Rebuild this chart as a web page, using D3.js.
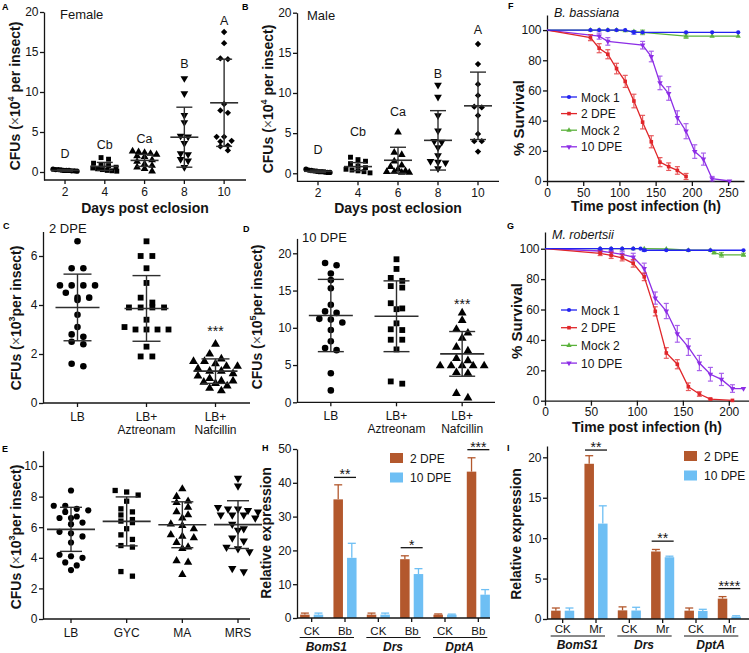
<!DOCTYPE html>
<html>
<head>
<meta charset="utf-8">
<script src="https://cdn.jsdelivr.net/npm/d3@7"></script>
<style>
body{margin:0;background:#fff}
svg{font-family:"Liberation Sans",Arial,Helvetica,sans-serif}
</style>
</head>
<body>
<svg id="fig" width="749" height="653"></svg>
<script>
// ---- A / B : CFUs by days post eclosion (x10^4 per insect)
const days = [2, 4, 6, 8, 10];
const femaleD2 = [0.35, 0.3, 0.3, 0.25, 0.2, 0.2, 0.2, 0.15, 0.15, 0.1];
const femaleD4 = [1.8, 1.6, 1.1, 0.9, 0.8, 0.6, 0.5, 0.4, 0.3, 0.2, 0.15, 0.1];
const femaleD6 = [2.6, 2.5, 2.4, 2.3, 2.2, 2.0, 1.9, 1.5, 1.3, 1.0, 0.8, 0.6, 0.4, 0.1];
const femaleD8 = [11.7, 9.8, 7.1, 6.2, 4.5, 4.4, 3.6, 2.3, 2.2, 1.6, 1.4, 0.6];
const femaleD10 = [17.5, 16.1, 14.2, 14.1, 8.5, 7.7, 7.4, 4.4, 4.4, 3.9, 3.8, 3.3, 3.2, 2.7];
const femaleMean = [0.2, 0.7, 1.45, 4.35, 8.65];
const femaleSd = [0.1, 0.5, 0.75, 3.75, 5.45];
const femaleLetters = ['D', 'Cb', 'Ca', 'B', 'A'];
const femaleLetterY = [1.75, 2.9, 3.6, 13, 18.4];

const maleD2 = [0.5, 0.4, 0.35, 0.3, 0.25, 0.2, 0.2, 0.15, 0.1, 0.1];
const maleD4 = [2.0, 1.7, 1.5, 1.2, 0.9, 0.7, 0.5, 0.4, 0.3, 0.2, 0.05];
const maleD6 = [5.1, 2.6, 2.3, 1.5, 1.0, 0.8, 0.5, 0.3, 0.2, 0.2, 0.1, 0.1];
const maleD8 = [11.0, 9.5, 7.2, 5.3, 4.0, 3.9, 3.2, 2.2, 1.5, 1.4, 1.3, 0.6];
const maleD10 = [16.1, 13.6, 11.1, 9.7, 8.3, 8.2, 7.2, 4.9, 4.0, 4.0, 2.7];
const maleMean = [0.25, 0.83, 1.62, 4.1, 8.4];
const maleSd = [0.15, 0.5, 1.62, 3.7, 4.2];
const maleLetters = ['D', 'Cb', 'Ca', 'B', 'A'];
const maleLetterY = [2.4, 4.6, 7.1, 11.9, 17.3];

// ---- C / D : antibiotics
const abCats = ['LB', 'LB+\nAztreonam', 'LB+\nNafcillin'];
const cLB = [6.6, 5.5, 5.5, 4.8, 4.8, 4.8, 4.8, 4.5, 4.3, 4.3, 4.2, 3.6, 3.1, 2.8, 2.7, 2.5, 2.4, 1.6, 1.5];
const cAzt = [6.6, 6.0, 6.0, 5.5, 4.9, 4.3, 4.1, 3.9, 3.9, 3.9, 3.9, 3.4, 3.1, 3.0, 3.0, 3.0, 3.0, 2.3, 1.9, 1.9];
const cNaf = [2.4, 2.0, 1.8, 1.7, 1.7, 1.6, 1.5, 1.5, 1.4, 1.3, 1.3, 1.2, 1.1, 1.0, 0.9, 0.9, 0.85, 0.8, 0.7, 0.6, 0.5];
const cMean = [3.9, 3.86, 1.3];
const cSd = [1.36, 1.34, 0.5];
const dLB = [18.7, 18.4, 17.3, 16.4, 15.3, 13.1, 12.2, 12.0, 11.2, 11.1, 10.7, 9.7, 8.2, 7.3, 7.0, 3.9, 1.6];
const dAzt = [19.2, 17.9, 16.7, 16.3, 15.6, 15.4, 13.3, 12.6, 12.5, 10.6, 9.8, 9.7, 8.4, 8.4, 7.1, 2.8, 2.5];
const dNaf = [12.0, 11.0, 9.8, 9.3, 8.6, 7.4, 6.9, 5.9, 5.6, 4.9, 4.9, 4.9, 4.9, 4.9, 4.0, 3.9, 1.2, 0.6];
const dMean = [11.65, 11.55, 6.5];
const dSd = [4.85, 4.75, 3.0];

// ---- E : media
const mediaCats = ['LB', 'GYC', 'MA', 'MRS'];
const eLB = [8.4, 7.4, 7.4, 7.2, 7.1, 7.0, 6.7, 6.6, 6.6, 6.3, 6.2, 5.7, 5.6, 5.4, 5.0, 4.2, 4.1, 4.0, 3.7, 3.5, 3.2];
const eGYC = [8.4, 8.3, 8.1, 7.7, 7.2, 7.0, 6.8, 6.5, 6.4, 6.3, 5.9, 5.5, 5.2, 4.8, 4.7, 3.1, 2.8];
const eMA = [8.5, 8.0, 7.7, 7.6, 7.3, 7.0, 6.8, 6.6, 6.2, 6.1, 5.9, 5.5, 5.4, 5.3, 5.0, 4.7, 4.6, 3.8, 3.7, 2.9];
const eMRS = [9.2, 8.7, 7.3, 7.2, 7.2, 7.1, 7.0, 6.8, 6.8, 6.8, 6.6, 6.2, 5.9, 5.8, 5.3, 5.1, 4.7, 4.6, 4.4, 3.3, 3.1];
const eMean = [5.86, 6.38, 6.16, 6.17];
const eSd = [1.44, 1.6, 1.5, 1.56];

// ---- F / G : survival (%), time in h
const survLabels = ['Mock 1', '2 DPE', 'Mock 2', '10 DPE'];
const fMock1T = [0, 60, 72, 84, 96, 108, 120, 132, 192, 228, 264];
const fMock1S = [100, 100, 100, 100, 100, 100, 98.5, 98.5, 98.5, 98.5, 98.5];
const fMock1E = [0, 0, 0, 0, 0, 0, 1.2, 0, 0, 0, 0];
const fMock2T = [0, 60, 72, 84, 96, 108, 120, 132, 192, 228, 264];
const fMock2S = [100, 100, 100, 100, 100, 99.5, 99, 98.5, 96, 96, 96];
const fMock2E = [0, 0, 0, 0, 0, 0, 0, 1.5, 1.5, 0, 0];
const f2dpeT = [0, 60, 72, 84, 96, 108, 120, 132, 144, 156, 168, 180, 192];
const f2dpeS = [100, 95, 88, 84, 74.5, 66, 53, 39, 26, 12.5, 9.5, 7, 3];
const f2dpeE = [0, 2, 3, 3, 3.5, 4, 4.5, 4.5, 4, 3, 2.5, 2.5, 2];
const f10dpeT = [0, 72, 84, 132, 144, 156, 168, 180, 192, 204, 216, 228, 252];
const f10dpeS = [100, 96, 92.5, 90, 82.5, 65, 58, 42, 33, 19.5, 14.5, 1.5, 0];
const f10dpeE = [0, 2, 2.5, 2.5, 3.5, 4.5, 4.5, 4.5, 5, 4.5, 4, 1.5, 0];

const gMock1T = [0, 60, 72, 84, 96, 104, 108, 132, 156, 180, 216];
const gMock1S = [100, 100, 100, 100, 100, 100, 99, 99, 99, 99, 99];
const gMock1E = [0, 0, 0, 0, 0, 0, 0.8, 0, 0, 0, 0];
const gMock2T = [0, 60, 72, 84, 96, 108, 132, 156, 180, 184, 192, 216];
const gMock2S = [100, 100, 100, 100, 100, 100, 99.8, 99, 99, 97.5, 96, 96];
const gMock2E = [0, 0, 0, 0, 0, 0, 0, 0, 0, 1, 1.5, 1];
const g2dpeT = [0, 60, 72, 84, 96, 108, 120, 132, 144, 156, 168, 180, 204];
const g2dpeS = [100, 97, 95.6, 94, 90.4, 81.5, 58.8, 31.4, 24, 9.2, 4.4, 1.1, 0.2];
const g2dpeE = [0, 1.5, 2, 2, 2.5, 2.5, 3, 3.5, 3, 2.5, 1.5, 0.5, 0];
const g10dpeT = [0, 60, 72, 84, 96, 108, 120, 132, 144, 156, 168, 180, 192, 204, 216];
const g10dpeS = [100, 98.5, 97.4, 96.3, 94.5, 87, 67.5, 59, 44, 35.3, 24.8, 17.4, 14, 8, 8];
const g10dpeE = [0, 1, 1.5, 2, 2.5, 3.5, 4, 5, 5.5, 5.5, 5, 4.5, 4, 2.5, 0];

// ---- H / I : relative expression
const genes = ['BomS1', 'Drs', 'DptA'];
const hCats = ['CK', 'Bb', 'CK', 'Bb', 'CK', 'Bb'];
const h2dpe = [1.0, 35.1, 1.0, 17.4, 1.0, 43.3];
const h2dpeErr = [0.45, 4.3, 0.45, 1.0, 0.2, 4.1];
const h10dpe = [1.0, 17.8, 1.0, 13.0, 1.0, 6.9];
const h10dpeErr = [0.45, 4.3, 0.45, 1.6, 0.15, 1.5];
const hSig = ['**', '*', '***'];
const hSigY = [41.6, 20.8, 49.8];
const iCats = ['CK', 'Mr', 'CK', 'Mr', 'CK', 'Mr'];
const i2dpe = [1.03, 19.2, 1.07, 8.35, 1.03, 2.52];
const i2dpeErr = [0.33, 1.0, 0.43, 0.25, 0.33, 0.25];
const i10dpe = [1.03, 11.8, 1.05, 7.64, 1.0, 0.3];
const i10dpeErr = [0.33, 2.2, 0.4, 0.13, 0.2, 0.1];
const iSig = ['**', '**', '****'];
const iSigY = [20.9, 9.63, 3.76];

const INK = '#141414';
const BROWN = '#b3582d';
const SKY = '#6ebff4';
const svg = d3.select('#fig');
svg.append('rect').attr('width', 749).attr('height', 653).attr('fill', '#fff');

function tidy(a){
    a.attr('font-family', null).attr('font-size', null);
    a.select('.domain').attr('stroke', INK).attr('stroke-width', 1.3);
    a.selectAll('.tick line').attr('stroke', INK).attr('stroke-width', 1.3);
    a.selectAll('.tick text').attr('fill', INK).attr('font-size', 12);
    return a;
}
function yAxis(g, y, x, ticks){
    return tidy(g.append('g').attr('transform', `translate(${x},0)`)
        .call(d3.axisLeft(y).tickValues(ticks).tickFormat(d3.format('~g'))
            .tickSize(4).tickSizeOuter(0).tickPadding(1.5)));
}
function catAxis(g, x0, x1, y0, xs, labels, fs, dy){
    g.append('line').attr('x1', x0).attr('x2', x1).attr('y1', y0).attr('y2', y0)
        .attr('stroke', INK).attr('stroke-width', 1.3);
    xs.forEach((px, i) => {
        g.append('line').attr('x1', px).attr('x2', px).attr('y1', y0).attr('y2', y0 + 4)
            .attr('stroke', INK).attr('stroke-width', 1.3);
        let t = g.append('text').attr('x', px).attr('y', y0 + dy).attr('text-anchor', 'middle')
            .attr('font-size', fs).attr('fill', INK);
        String(labels[i]).split('\n').forEach((s, j) => t.append('tspan').attr('x', px).attr('dy', j ? 13 : 0).text(s));
    });
}
function text(g, x, y, s, opt){
    opt = opt || {};
    return g.append('text').attr('x', x).attr('y', y).text(s)
        .attr('font-size', opt.size || 12).attr('font-weight', opt.weight || null)
        .attr('font-style', opt.style || null).attr('text-anchor', opt.anchor || 'start').attr('fill', INK);
}
function cfuTitle(g, x, cy, exp, gap){
    let t = g.append('text').attr('transform', `translate(${x},${cy}) rotate(-90)`)
        .attr('text-anchor', 'middle').attr('font-size', 14).attr('font-weight', 'bold').attr('fill', INK);
    t.append('tspan').text('CFUs (');
    t.append('tspan').attr('font-weight', 'normal').attr('fill', '#555').text('\u00d7');
    t.append('tspan').text('10');
    t.append('tspan').attr('font-size', 9).attr('dy', -6).text(exp);
    t.append('tspan').attr('dy', 6).text((gap ? ' ' : '') + 'per insect)');
}
function rotTitle(g, x, cy, s, size){
    g.append('text').attr('transform', `translate(${x},${cy}) rotate(-90)`)
        .attr('text-anchor', 'middle').attr('font-size', size || 14).attr('font-weight', 'bold').attr('fill', INK).text(s);
}
function panelLetter(x, y, s){
    text(svg, x, y, s, {size: 9, weight: 'bold'}).attr('fill', '#000');
}

// prism-like column scatter: points close in y share a row and spread sideways
function swarm(vals, y, rowH, spacing, maxHalf){
    let pts = vals.map(v => ({v: v, py: y(v), dx: 0})).sort((a, b) => a.py - b.py);
    let rows = [];
    pts.forEach(p => {
        let last = rows[rows.length - 1];
        if(last && p.py - last[0].py < rowH) last.push(p); else rows.push([p]);
    });
    rows.forEach(r => {
        let n = r.length;
        let sp = n > 1 ? Math.min(spacing, 2 * maxHalf / (n - 1)) : 0;
        r.forEach((p, i) => { p.dx = (i - (n - 1) / 2) * sp; });
    });
    return pts;
}

const SHAPES = {
    circle: {type: d3.symbolCircle, rot: 0},
    square: {type: d3.symbolSquare, rot: 0},
    up: {type: d3.symbolTriangle, rot: 0},
    down: {type: d3.symbolTriangle, rot: 180},
    diamond: {type: d3.symbolSquare, rot: 45}
};

function scatterPanel(o){
    let g = svg.append('g');
    let y = d3.scaleLinear().domain(o.yDomain).range(o.yRange);
    let xs = o.cats.map((c, i) => o.x(c, i));
    catAxis(g, o.x0, o.x1, o.yRange[0], xs, o.labels, 12, o.labelDy);
    yAxis(g, y, o.x0, o.yTicks);
    o.groups.forEach((vals, i) => {
        let cx = xs[i];
        let sh = SHAPES[o.shapes[i]];
        let size = o.sizes[i];
        let pts = swarm(vals, y, o.rowH, o.spacing, o.maxHalf);
        g.append('g').selectAll('path').data(pts).join('path')
            .attr('transform', d => `translate(${cx + d.dx},${d.py}) rotate(${sh.rot})`)
            .attr('d', d3.symbol(sh.type, size)())
            .attr('fill', '#000');
        let m = o.means[i], s = o.sds[i];
        let eb = g.append('g').attr('stroke', '#2e2e2e').attr('stroke-width', 1.4);
        eb.append('line').attr('x1', cx).attr('x2', cx).attr('y1', y(m - s)).attr('y2', y(m + s));
        [m - s, m + s].forEach(v => eb.append('line')
            .attr('x1', cx - o.capHalf).attr('x2', cx + o.capHalf).attr('y1', y(v)).attr('y2', y(v)));
        eb.append('line').attr('x1', cx - o.meanHalf).attr('x2', cx + o.meanHalf)
            .attr('y1', y(m)).attr('y2', y(m)).attr('stroke-width', 1.6);
    });
    return {g: g, y: y, xs: xs};
}

function survivalPanel(o){
    let g = svg.append('g');
    let x = d3.scaleLinear().domain(o.xDomain).range([o.x0, o.x1]);
    let y = d3.scaleLinear().domain(o.yDomain).range(o.yRange);
    tidy(g.append('g').attr('transform', `translate(0,${o.yRange[0]})`)
        .call(d3.axisBottom(x).tickValues(o.xTicks).tickSize(5).tickSizeOuter(0).tickPadding(2)));
    yAxis(g, y, o.x0, [0, 20, 40, 60, 80, 100]);
    o.series.forEach(s => {
        let pts = s.t.map((t, i) => ({t: t, v: s.v[i], e: s.e[i]}));
        let sg = g.append('g');
        sg.append('path').datum(pts).attr('fill', 'none').attr('stroke', s.color).attr('stroke-width', 1.3)
            .attr('d', d3.line().x(d => x(d.t)).y(d => y(d.v)));
        let eb = sg.append('g').attr('stroke', s.color).attr('stroke-width', 1.2).attr('opacity', 0.75);
        pts.filter(d => d.e > 0).forEach(d => {
            let px = x(d.t);
            eb.append('line').attr('x1', px).attr('x2', px).attr('y1', y(d.v - d.e)).attr('y2', y(d.v + d.e));
            [d.v - d.e, d.v + d.e].forEach(v => eb.append('line')
                .attr('x1', px - 2.5).attr('x2', px + 2.5).attr('y1', y(v)).attr('y2', y(v)));
        });
        let sh = SHAPES[s.shape];
        sg.selectAll('.mk').data(pts.slice(1)).join('path')
            .attr('transform', d => `translate(${x(d.t)},${y(d.v)}) rotate(${sh.rot})`)
            .attr('d', d3.symbol(sh.type, s.size)()).attr('fill', s.color);
    });
    // legend in label order
    o.legendOrder.forEach((k, i) => {
        let s = o.series[k];
        let ly = o.legendY + i * o.legendStep;
        let sh = SHAPES[s.shape];
        g.append('line').attr('x1', o.legendX).attr('x2', o.legendX + 16).attr('y1', ly).attr('y2', ly)
            .attr('stroke', s.color).attr('stroke-width', 1.3);
        g.append('path').attr('transform', `translate(${o.legendX + 8},${ly}) rotate(${sh.rot})`)
            .attr('d', d3.symbol(sh.type, s.size)()).attr('fill', s.color);
        text(g, o.legendX + 20, ly + 4.5, s.label, {size: 12});
    });
    return g;
}

function barPanel(o){
    let g = svg.append('g');
    let y = d3.scaleLinear().domain(o.yDomain).range(o.yRange);
    let x = d3.scaleBand().domain(d3.range(o.cats.length)).range(o.band);
    let xc = i => x(i) + x.bandwidth() / 2;
    let y0 = y(0);
    let bw = 9.5, off = 6.8;
    [{v: o.a, e: o.aErr, c: BROWN, d: -off}, {v: o.b, e: o.bErr, c: SKY, d: off}].forEach(s => {
        s.v.forEach((v, i) => {
            let px = xc(i) + s.d;
            g.append('line').attr('x1', px).attr('x2', px).attr('y1', y(v)).attr('y2', y(v + s.e[i]))
                .attr('stroke', s.c).attr('stroke-width', 1.3);
            g.append('line').attr('x1', px - 4).attr('x2', px + 4).attr('y1', y(v + s.e[i])).attr('y2', y(v + s.e[i]))
                .attr('stroke', s.c).attr('stroke-width', 1.3);
            g.append('rect').attr('x', px - bw / 2).attr('y', y(v)).attr('width', bw).attr('height', y0 - y(v))
                .attr('fill', s.c);
        });
    });
    catAxis(g, o.x0, o.x1, y0, d3.range(o.cats.length).map(xc), o.cats, 11.5, o.labelDy);
    yAxis(g, y, o.x0, o.yTicks);
    genes.forEach((gn, k) => {
        let xa = xc(2 * k), xb = xc(2 * k + 1);
        g.append('line').attr('x1', xa - 12).attr('x2', xb + 9).attr('y1', o.lineY).attr('y2', o.lineY)
            .attr('stroke', INK).attr('stroke-width', 1.2);
        text(g, (xa + xb) / 2 - 2, o.geneY, gn, {size: 12, weight: 'bold', style: 'italic', anchor: 'middle'});
        let sx = xb, sy = y(o.sigY[k]);
        g.append('line').attr('x1', sx - 11).attr('x2', sx + 11).attr('y1', sy).attr('y2', sy)
            .attr('stroke', INK).attr('stroke-width', 1.3);
        text(g, sx, sy + 2, o.sig[k], {size: 14, anchor: 'middle'});
    });
    [['2 DPE', BROWN], ['10 DPE', SKY]].forEach((l, i) => {
        let ly = o.legendY + i * 19.5;
        g.append('rect').attr('x', o.legendX).attr('y', ly - 5).attr('width', 13).attr('height', 10).attr('fill', l[1]);
        text(g, o.legendX + 20, ly + 4.5, l[0], {size: 12});
    });
    return g;
}

// ---------- A
let pA = scatterPanel({
    x0: 44, x1: 246, cats: days, labels: days, labelDy: 16,
    x: d3.scaleLinear().domain([0.943, 11.1]).range([44, 246]),
    yDomain: [-1, 20], yRange: [180, 12], yTicks: [0, 5, 10, 15, 20],
    groups: [femaleD2, femaleD4, femaleD6, femaleD8, femaleD10],
    means: femaleMean, sds: femaleSd,
    shapes: ['circle', 'square', 'up', 'down', 'diamond'], sizes: [22, 24, 26, 26, 20],
    rowH: 4.5, spacing: 7.5, maxHalf: 12, capHalf: 8, meanHalf: 14
});
femaleLetters.forEach((s, i) => text(pA.g, pA.xs[i], pA.y(femaleLetterY[i]), s, {size: 12.5, anchor: 'middle'}));
text(pA.g, 60, 19, 'Female', {size: 13});
cfuTitle(pA.g, 20, 96, '4', true);
text(pA.g, 145, 212.5, 'Days post eclosion', {size: 14, weight: 'bold', anchor: 'middle'});

// ---------- B
let pB = scatterPanel({
    x0: 297, x1: 499, cats: days, labels: days, labelDy: 16,
    x: d3.scaleLinear().domain([0.95, 11.05]).range([297, 499]),
    yDomain: [-1, 20], yRange: [181.3, 12.7], yTicks: [0, 5, 10, 15, 20],
    groups: [maleD2, maleD4, maleD6, maleD8, maleD10],
    means: maleMean, sds: maleSd,
    shapes: ['circle', 'square', 'up', 'down', 'diamond'], sizes: [22, 24, 26, 26, 20],
    rowH: 4.5, spacing: 7.5, maxHalf: 12, capHalf: 8, meanHalf: 14
});
maleLetters.forEach((s, i) => text(pB.g, pB.xs[i], pB.y(maleLetterY[i]), s, {size: 12.5, anchor: 'middle'}));
text(pB.g, 307, 20, 'Male', {size: 13});
cfuTitle(pB.g, 273, 99, '4', true);
text(pB.g, 398, 212.5, 'Days post eclosion', {size: 14, weight: 'bold', anchor: 'middle'});

// ---------- C
let bandC = d3.scaleBand().domain(abCats).range([43, 250]);
let pC = scatterPanel({
    x0: 43, x1: 250, cats: abCats, labels: abCats, labelDy: 18,
    x: c => bandC(c) + bandC.bandwidth() / 2,
    yDomain: [0, 7], yRange: [403, 231.5], yTicks: [0, 2, 4, 6],
    groups: [cLB, cAzt, cNaf], means: cMean, sds: cSd,
    shapes: ['circle', 'square', 'up'], sizes: [34, 34, 34],
    rowH: 5.5, spacing: 11.7, maxHalf: 22, capHalf: 14, meanHalf: 22
});
text(pC.g, 49, 233, '2 DPE', {size: 13});
text(pC.g, pC.xs[2], pC.y(3.08) + 8, '***', {size: 14, anchor: 'middle'});
cfuTitle(pC.g, 21, 318, '3', false);

// ---------- D
let bandD = d3.scaleBand().domain(abCats).range([298, 495]);
let pD = scatterPanel({
    x0: 297, x1: 495, cats: abCats, labels: abCats, labelDy: 18,
    x: c => bandD(c) + bandD.bandwidth() / 2,
    yDomain: [0, 22], yRange: [402.3, 238.4], yTicks: [0, 5, 10, 15, 20],
    groups: [dLB, dAzt, dNaf], means: dMean, sds: dSd,
    shapes: ['circle', 'square', 'up'], sizes: [34, 34, 34],
    rowH: 5.5, spacing: 11.5, maxHalf: 22, capHalf: 13, meanHalf: 22
});
text(pD.g, 302, 242, '10 DPE', {size: 13});
text(pD.g, pD.xs[2], pD.y(13.6) + 8, '***', {size: 14, anchor: 'middle'});
cfuTitle(pD.g, 262, 317, '5', false);

// ---------- E
let pE = scatterPanel({
    x0: 43, x1: 250, cats: mediaCats, labels: mediaCats, labelDy: 18,
    x: d3.scalePoint().domain(mediaCats).range([71, 238]),
    yDomain: [0, 11], yRange: [619, 450.7], yTicks: [0, 2, 4, 6, 8, 10],
    groups: [eLB, eGYC, eMA, eMRS], means: eMean, sds: eSd,
    shapes: ['circle', 'square', 'up', 'down'], sizes: [30, 28, 30, 30],
    rowH: 5, spacing: 11.5, maxHalf: 20, capHalf: 11, meanHalf: 24
});
cfuTitle(pE.g, 21, 537, '3', false);

// ---------- F
let gF = survivalPanel({
    xDomain: [0, 272], x0: 547, x1: 744, xTicks: [0, 50, 100, 150, 200, 250],
    yDomain: [0, 110], yRange: [181, 15],
    series: [
        {label: survLabels[2], t: fMock2T, v: fMock2S, e: fMock2E, color: '#5bb23c', shape: 'up', size: 12},
        {label: survLabels[3], t: f10dpeT, v: f10dpeS, e: f10dpeE, color: '#8d2ee6', shape: 'down', size: 13},
        {label: survLabels[1], t: f2dpeT, v: f2dpeS, e: f2dpeE, color: '#e0262a', shape: 'square', size: 13},
        {label: survLabels[0], t: fMock1T, v: fMock1S, e: fMock1E, color: '#2323f0', shape: 'circle', size: 14}
    ],
    legendOrder: [3, 2, 0, 1], legendX: 561, legendY: 97, legendStep: 16.6
});
text(gF, 554, 17, 'B. bassiana', {size: 12.5, style: 'italic'});
rotTitle(gF, 524, 118, '% Survival', 15);
text(gF, 646, 211, 'Time post infection (h)', {size: 14, weight: 'bold', anchor: 'middle'});

// ---------- G
let gG = survivalPanel({
    xDomain: [0, 222], x0: 545, x1: 749, xTicks: [0, 50, 100, 150, 200],
    yDomain: [0, 111], yRange: [400.7, 232],
    series: [
        {label: survLabels[2], t: gMock2T, v: gMock2S, e: gMock2E, color: '#5bb23c', shape: 'up', size: 12},
        {label: survLabels[3], t: g10dpeT, v: g10dpeS, e: g10dpeE, color: '#8d2ee6', shape: 'down', size: 13},
        {label: survLabels[1], t: g2dpeT, v: g2dpeS, e: g2dpeE, color: '#e0262a', shape: 'square', size: 13},
        {label: survLabels[0], t: gMock1T, v: gMock1S, e: gMock1E, color: '#2323f0', shape: 'circle', size: 14}
    ],
    legendOrder: [3, 2, 0, 1], legendX: 561, legendY: 310, legendStep: 17.7
});
text(gG, 552, 239, 'M. robertsii', {size: 12.5, style: 'italic'});
rotTitle(gG, 522, 321, '% Survival', 15);
text(gG, 647, 432, 'Time post infection (h)', {size: 14, weight: 'bold', anchor: 'middle'});

// ---------- H
let gH = barPanel({
    cats: hCats, a: h2dpe, aErr: h2dpeErr, b: h10dpe, bErr: h10dpeErr, sig: hSig, sigY: hSigY,
    yDomain: [0, 50], yRange: [618, 449], yTicks: [0, 10, 20, 30, 40, 50],
    band: [295, 495], x0: 297, x1: 490, labelDy: 17, lineY: 637.5, geneY: 650.5,
    legendX: 390, legendY: 458
});
rotTitle(gH, 271, 533, 'Relative expression');

// ---------- I
let gI = barPanel({
    cats: iCats, a: i2dpe, aErr: i2dpeErr, b: i10dpe, bErr: i10dpeErr, sig: iSig, sigY: iSigY,
    yDomain: [0, 21.4], yRange: [619, 446], yTicks: [0, 5, 10, 15, 20],
    band: [546, 746], x0: 547, x1: 749, labelDy: 14, lineY: 636, geneY: 649,
    legendX: 684, legendY: 456
});
rotTitle(gI, 521, 534, 'Relative expression');

panelLetter(2, 10, 'A');
panelLetter(242, 10, 'B');
panelLetter(508, 9, 'F');
panelLetter(3, 229, 'C');
panelLetter(243, 232, 'D');
panelLetter(507, 229, 'G');
panelLetter(2, 452, 'E');
panelLetter(262, 451, 'H');
panelLetter(507, 451, 'I');
</script>
</body>
</html>
